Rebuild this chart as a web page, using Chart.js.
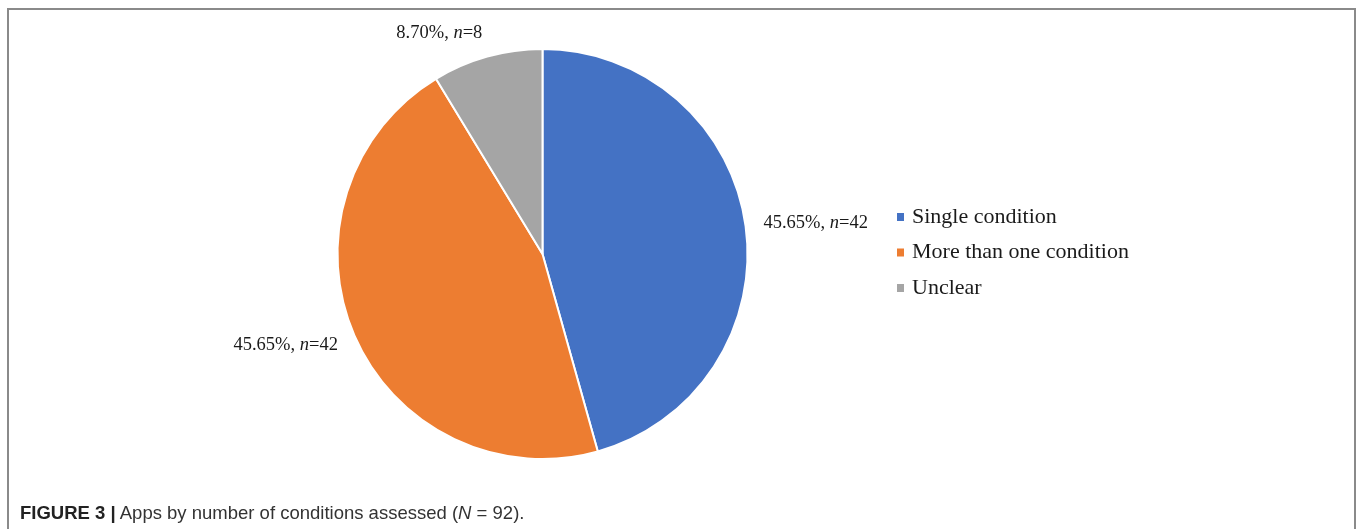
<!DOCTYPE html>
<html>
<head>
<meta charset="utf-8">
<script src="https://cdn.jsdelivr.net/npm/chart.js@4/dist/chart.umd.min.js"></script>
<style>
  html, body { margin: 0; padding: 0; background: #fff; }
  body { width: 1358px; height: 529px; position: relative; overflow: hidden; }
  .frame {
    position: absolute; left: 7px; top: 8px; width: 1345px; height: 530px;
    border-top: 2px solid #8a8a8a; border-left: 2px solid #8a8a8a; border-right: 2px solid #8a8a8a;
  }
  #pie { position: absolute; left: 0; top: 0; }
  .caption {
    position: absolute; left: 20px; top: 502px;
    font-family: "Liberation Sans", Arial, sans-serif; font-size: 18.5px; color: #333;
  }
  .caption b { color: #222; }
</style>
</head>
<body>
<div class="frame"></div>
<canvas id="pie" width="1358" height="529"></canvas>
<div class="caption"><b>FIGURE 3 |</b> Apps by number of conditions assessed (<i>N</i> = 92).</div>

<script>
// apps per category (N = 92)
const categories = ['Single condition', 'More than one condition', 'Unclear'];
const counts = [42, 42, 8];
const percents = ['45.65%', '45.65%', '8.70%'];
const colors = ['#4472C4', '#ED7D31', '#A5A5A5'];

const serif = '"Liberation Serif", "Times New Roman", serif';

// outside-end labels "xx.xx%, n=yy" and the legend on the right
const labelPlugin = {
  id: 'outsideLabels',
  afterDraw(chart) {
    const ctx = chart.ctx;
    const meta = chart.getDatasetMeta(0);
    ctx.save();
    ctx.fillStyle = '#1a1a1a';
    ctx.textBaseline = 'middle';

    meta.data.forEach((arc, i) => {
      const mid = (arc.startAngle + arc.endAngle) / 2;
      const dx = Math.cos(mid), dy = Math.sin(mid);
      const r = arc.outerRadius + 14;
      const ax = arc.x + dx * (r + 4);
      const ay = arc.y + dy * r + dy * 10;

      const parts = [
        { t: percents[i] + ',', f: '18.5px ' + serif },
        { t: ' n', f: 'italic 18.5px ' + serif },
        { t: '=' + counts[i], f: '18.5px ' + serif },
      ];
      let w = 0;
      parts.forEach(p => { ctx.font = p.f; w += ctx.measureText(p.t).width; });
      let x = dx >= 0 ? ax : ax - w;
      ctx.textAlign = 'left';
      parts.forEach(p => {
        ctx.font = p.f;
        ctx.fillText(p.t, x, ay);
        x += ctx.measureText(p.t).width;
      });
    });

    // legend
    const legendX = 897, legendY = 217, rowGap = 35.5;
    ctx.font = '22px ' + serif;
    categories.forEach((name, i) => {
      const y = legendY + i * rowGap;
      ctx.fillStyle = colors[i];
      ctx.fillRect(legendX, y - 4, 7, 8);
      ctx.fillStyle = '#1a1a1a';
      ctx.fillText(name, legendX + 15, y);
    });
    ctx.restore();
  }
};

new Chart(document.getElementById('pie'), {
  type: 'pie',
  data: {
    labels: categories,
    datasets: [{
      data: counts,
      backgroundColor: colors,
      borderColor: '#ffffff',
      borderWidth: 2,
    }],
  },
  options: {
    responsive: false,
    animation: false,
    layout: {
      padding: { left: 336, top: 48, right: 609, bottom: 69 },
    },
    plugins: {
      legend: { display: false },
      tooltip: { enabled: false },
    },
  },
  plugins: [labelPlugin],
});
</script>
</body>
</html>
